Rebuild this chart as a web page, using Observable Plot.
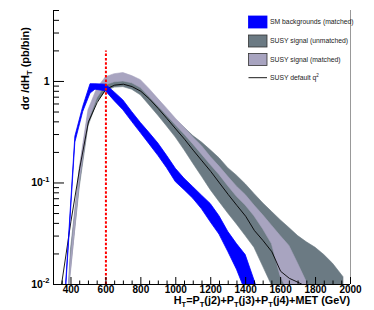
<!DOCTYPE html>
<html><head><meta charset="utf-8">
<script src="https://cdn.jsdelivr.net/npm/d3@7"></script>
<script src="https://cdn.jsdelivr.net/npm/@observablehq/plot@0.6"></script>
<style>body{margin:0;background:#fff}</style>
</head><body><div id="chart"></div>
<script>
const W = 374, H = 310, mL = 53, mR = 24, mT = 10, mB = 26;
const frameW = W - mL - mR, frameH = H - mT - mB;
const xDomain = [300, 2000];
const yDomain = [0.01, 5];
const xTicks = [400, 600, 800, 1000, 1200, 1400, 1600, 1800, 2000];
const xMinor = d3.range(300, 2001, 50).filter(d => d % 200 !== 0);
const yTicks = [0.01, 0.1, 1];
const yMinor = [0.02,0.03,0.04,0.05,0.06,0.07,0.08,0.09,0.2,0.3,0.4,0.5,0.6,0.7,0.8,0.9,2,3,4,5];

// SM backgrounds (matched) band
const smHT   = [373, 425, 470, 512, 540, 600, 650, 700, 750, 800, 850, 900, 950, 1000, 1050, 1100, 1150, 1200, 1250, 1300, 1350, 1400, 1450, 1500];
const smLow  = [0.0095,0.25,0.50,0.76,0.83,0.80,0.64,0.52,0.40,0.31,0.24,0.185,0.14,0.102,0.085,0.07,0.055,0.041,0.031,0.021,0.014,0.0085,0.005,0.003];
const smHigh = [0.0105,0.285,0.56,0.94,0.94,0.93,0.78,0.65,0.50,0.39,0.31,0.245,0.185,0.138,0.11,0.091,0.075,0.062,0.047,0.033,0.025,0.0195,0.011,0.006];

// SUSY signal bands
const susyHT  = [390,400,450,500,550,600,650,700,750,800,850,900,950,1000,1050,1100,1150,1200,1250,1300,1350,1400,1450,1500,1550,1600,1650,1700,1750,1800,1850,1900,1960];
const unmLow  = [0.0095,0.014,0.09,0.36,0.62,0.80,0.87,0.88,0.83,0.73,0.58,0.46,0.36,0.28,0.21,0.155,0.115,0.085,0.065,0.05,0.039,0.03,0.023,0.015,0.0098,0.007,0.005,0.0035,0.0025,0.002,0.0015,0.001,0.001];
const unmHigh = [0.011,0.022,0.13,0.47,0.80,0.95,1.0,1.02,1.0,0.93,0.80,0.66,0.52,0.42,0.35,0.29,0.25,0.21,0.175,0.14,0.118,0.097,0.078,0.063,0.052,0.043,0.036,0.03,0.026,0.023,0.0195,0.016,0.0118];
const matLow  = [0.0095,0.013,0.10,0.40,0.68,0.92,0.98,1.0,0.96,0.86,0.70,0.57,0.46,0.37,0.30,0.24,0.19,0.15,0.12,0.093,0.073,0.06,0.047,0.035,0.025,0.012,0.008,0.006,0.004,0.003,0.002,0.0015,0.001];
const matHigh = [0.0105,0.018,0.14,0.52,0.85,1.10,1.18,1.21,1.13,1.03,0.84,0.67,0.54,0.43,0.35,0.28,0.23,0.18,0.145,0.115,0.092,0.076,0.06,0.048,0.038,0.03,0.024,0.016,0.0105,0.007,0.005,0.004,0.003];

// SUSY default q^2 line
const defHT = [346,400,450,500,550,600,650,700,750,800,850,900,950,1000,1050,1100,1150,1200,1250,1300,1350,1400,1450,1500,1550,1600,1650,1700,1750];
const defQ2 = [0.01,0.042,0.14,0.40,0.62,0.84,0.92,0.94,0.89,0.80,0.67,0.54,0.43,0.34,0.27,0.21,0.165,0.13,0.10,0.077,0.06,0.047,0.034,0.027,0.021,0.0135,0.0115,0.0105,0.0095];

const cutHT = [600], cutTop = 2;

const blue = "#0000ff", slate = "#6b7a83", lav = "#a8a4c0";
const sm = smHT.map((x, i) => ({x, lo: smLow[i], hi: smHigh[i]}));
const unm = susyHT.map((x, i) => ({x, lo: unmLow[i], hi: unmHigh[i]}));
const mat = susyHT.map((x, i) => ({x, lo: matLow[i], hi: matHigh[i]}));
const def = defHT.map((x, i) => ({x, y: defQ2[i]}));

const font = "'Liberation Sans', Arial, Helvetica, sans-serif";
const chart = Plot.plot({
  width: W, height: H, marginLeft: mL, marginRight: mR, marginTop: mT, marginBottom: mB,
  style: {fontFamily: font, fontWeight: "bold", fontSize: "10px", background: "#fff", color: "#000"},
  x: {domain: xDomain, label: null},
  y: {type: "log", domain: yDomain, label: null},
  marks: [
    Plot.areaY(unm, {x: "x", y1: "lo", y2: "hi", fill: slate, stroke: slate, strokeWidth: 0.6, clip: true}),
    Plot.areaY(mat, {x: "x", y1: "lo", y2: "hi", fill: lav, stroke: lav, strokeWidth: 0.6, clip: true}),
    Plot.line(def, {x: "x", y: "y", stroke: "#000", strokeWidth: 0.9, clip: true}),
    Plot.areaY(sm, {x: "x", y1: "lo", y2: "hi", fill: blue, stroke: blue, strokeWidth: 0.8, clip: true}),
    Plot.ruleX(cutHT, {x: d => d, y1: yDomain[0], y2: cutTop, stroke: "#ff0000", strokeWidth: 2, strokeDasharray: "2.5,1.8"}),
    Plot.ruleX([xDomain[1]], {stroke: "#999", strokeWidth: 1}),
    Plot.ruleX([xDomain[0]], {stroke: "#000", strokeWidth: 1}),
    Plot.ruleY([yDomain[0]], {stroke: "#000", strokeWidth: 1}),
    Plot.tickX(xTicks, {x: d => d, insetTop: frameH - 7, stroke: "#000"}),
    Plot.tickX(xMinor, {x: d => d, insetTop: frameH - 3.5, stroke: "#000"}),
    Plot.tickY(yTicks, {y: d => d, insetRight: frameW - 11, stroke: "#000"}),
    Plot.tickY(yMinor, {y: d => d, insetRight: frameW - 6, stroke: "#000"}),
    Plot.axisX(xTicks, {tickSize: 0, tickPadding: 1, label: null, tickFormat: d => String(d)}),
    Plot.axisY(yTicks, {tickSize: 0, tickPadding: 4, label: null, fontSize: 10.5,
      tickFormat: d => d === 1 ? "1" : "10^" + Math.round(Math.log10(d))})
  ]
});
document.getElementById("chart").appendChild(chart);
const svg = d3.select(chart);

// superscripts on y tick labels
svg.selectAll('[aria-label="y-axis tick label"] text').each(function() {
  const s = this.textContent, m = s.match(/^10\^(.+)$/);
  if (!m) return;
  const t = d3.select(this); t.text("");
  t.append("tspan").text("10");
  t.append("tspan").attr("font-size", 7.5).attr("dy", -4.5).text(m[1]);
});

// axis titles (pieces: [text, isSubscript])
const xTitle = [["H", 0], ["T", 1], ["=P", 0], ["T", 1], ["(j2)+P", 0], ["T", 1], ["(j3)+P", 0], ["T", 1], ["(j4)+MET (GeV)", 0]];
const xt = svg.append("text").attr("x", 350).attr("y", 303.5).attr("text-anchor", "end")
  .attr("font-size", 10.8).attr("font-weight", "bold").attr("font-family", font);
let prev = 0;
xTitle.forEach(([s, isSub]) => {
  const shift = isSub ? 3 : 0;
  xt.append("tspan").attr("dy", shift - prev).attr("font-size", isSub ? 7.5 : 10.8).text(s);
  prev = shift;
});

const yt = svg.append("text").attr("transform", "translate(29,27) rotate(-90)").attr("text-anchor", "end")
  .attr("font-size", 11).attr("font-weight", "bold").attr("font-family", font);
yt.append("tspan").text("dσ /dH");
yt.append("tspan").attr("font-size", 7.5).attr("dy", 3).text("T");
yt.append("tspan").attr("dy", -3).text(" (pb/bin)");

// legend
const legend = [
  {label: "SM backgrounds (matched)", fill: blue, stroke: blue, y: 22},
  {label: "SUSY signal (unmatched)", fill: slate, stroke: "#333", y: 41},
  {label: "SUSY signal (matched)", fill: lav, stroke: "#333", y: 59.5},
  {label: "SUSY default q", line: true, y: 77.7}
];
const lg = svg.append("g").attr("font-family", font).attr("font-weight", "normal").attr("font-size", 6.8)
  .attr("fill", "#222").attr("text-anchor", "start");
legend.forEach(e => {
  if (e.line) {
    lg.append("line").attr("x1", 248.5).attr("x2", 267).attr("y1", e.y).attr("y2", e.y).attr("stroke", "#000").attr("stroke-width", 0.9);
  } else {
    lg.append("rect").attr("x", 248.5).attr("y", e.y - 6).attr("width", 18.5).attr("height", 12)
      .attr("fill", e.fill).attr("stroke", e.stroke).attr("stroke-width", 0.8);
  }
  const t = lg.append("text").attr("x", 270).attr("y", e.y + 2.4).attr("text-anchor", "start").text(e.label);
  if (e.line) t.append("tspan").attr("font-size", 4.5).attr("dy", -3.5).text("2");
});
</script></body></html>
